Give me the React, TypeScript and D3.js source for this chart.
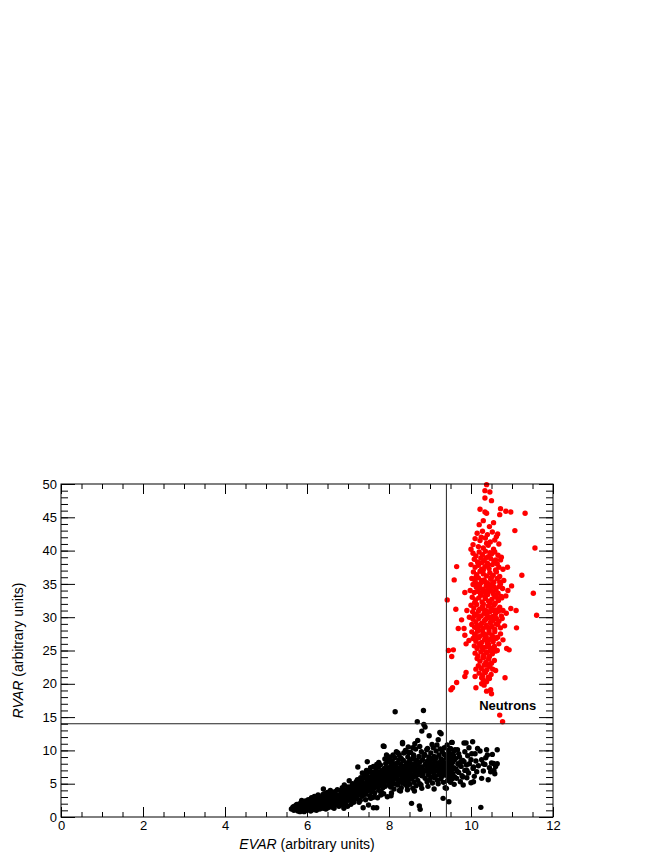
import React, { useEffect, useRef } from "react";
import * as d3 from "d3";

// axis ticks
const xTicks = [0, 2, 4, 6, 8, 10, 12];
const yTicks = [0, 5, 10, 15, 20, 25, 30, 35, 40, 45, 50];

// selection cuts
const cutEvar = 9.4;
const cutRvar = 14;

// [EVAR, RVAR] of events outside the neutron box (black)
const otherEvents: [number, number][] = [
  [5.62,1.2],[5.66,1.5],[5.68,1.0],[5.7,1.3],[5.72,1.7],[5.74,1.1],[5.76,1.4],[5.78,0.9],[5.8,1.6],[5.8,1.2],
  [5.82,2.0],[5.84,1.4],[5.85,1.0],[5.86,1.8],[5.88,1.3],[5.9,2.2],[5.9,1.1],[5.92,1.6],[5.93,0.8],[5.94,1.9],
  [5.95,1.4],[5.96,2.4],[5.97,1.2],[5.98,1.7],[6.0,1.0],[6.0,2.1],[5.75,1.9],[5.87,2.5],[5.69,1.6],[5.83,0.8],
  [5.91,1.5],[5.97,2.0],[5.79,1.2],[5.65,1.3],[5.99,1.3],
  [6.02,1.5],[6.03,2.6],[6.05,1.2],[6.06,1.9],[6.08,2.3],[6.09,0.9],[6.1,1.6],[6.11,2.9],[6.12,1.3],[6.13,2.0],
  [6.15,2.5],[6.16,1.1],[6.17,1.8],[6.18,3.1],[6.2,1.5],[6.2,2.2],[6.22,2.7],[6.23,1.0],[6.24,1.9],[6.25,2.4],
  [6.26,1.4],[6.27,3.3],[6.28,2.0],[6.3,1.6],[6.3,2.8],[6.31,1.2],[6.32,2.3],[6.33,1.8],[6.34,3.0],[6.35,2.1],
  [6.36,1.4],[6.37,2.6],[6.38,1.9],[6.39,3.4],[6.4,2.2],[6.4,1.3],[6.07,1.7],[6.14,2.2],[6.21,1.7],[6.29,2.5],
  [6.41,2.8],[6.42,1.6],[6.43,3.5],[6.44,2.0],[6.45,2.5],[6.46,1.2],[6.47,3.0],[6.48,2.2],[6.49,1.8],[6.5,3.7],
  [6.5,2.6],[6.51,1.4],[6.52,2.9],[6.53,2.1],[6.54,3.3],[6.55,1.7],[6.56,2.5],[6.57,4.0],[6.58,2.0],[6.59,3.1],
  [6.6,1.5],[6.6,2.7],[6.61,3.6],[6.62,2.3],[6.63,1.9],[6.64,3.2],[6.65,2.6],[6.66,1.3],[6.67,2.9],[6.68,3.8],
  [6.69,2.2],[6.7,3.4],[6.7,1.8],[6.71,2.7],[6.72,3.1],[6.73,2.0],[6.74,4.1],[6.75,2.5],[6.77,3.3],[6.78,1.6],
  [6.79,2.9],[6.4,4.2],
  [6.8,3.0],[6.81,2.2],[6.82,4.0],[6.83,3.5],[6.84,1.8],[6.85,2.7],[6.86,4.4],[6.87,3.2],[6.88,2.4],[6.89,3.8],
  [6.9,1.3],[6.9,3.0],[6.91,4.8],[6.92,2.6],[6.93,3.5],[6.94,2.0],[6.95,4.1],[6.96,3.3],[6.97,2.8],[6.98,3.9],
  [6.99,1.6],[7.0,3.6],[7.0,4.5],[7.01,2.5],[7.02,3.1],[7.03,5.45],[7.04,4.0],[7.05,2.9],[7.06,3.5],[7.07,1.9],
  [7.08,4.6],[7.09,3.2],[7.1,3.9],[7.1,2.6],[7.11,5.0],[7.12,3.4],[7.13,4.3],[7.14,2.2],[7.15,3.7],[7.16,4.8],
  [7.17,3.0],[7.18,4.1],[7.19,2.7],[7.2,3.6],[7.2,5.3],
  [7.21,4.3],[7.22,2.8],[7.23,5.6],[7.24,7.5],[7.25,3.9],[7.26,4.9],[7.27,3.3],[7.28,5.2],[7.29,4.0],[7.3,2.5],
  [7.3,4.6],[7.31,5.9],[7.32,3.6],[7.33,4.4],[7.34,5.4],[7.35,3.1],[7.36,4.8],[7.37,1.4],[7.38,4.1],[7.39,6.2],
  [7.4,3.7],[7.4,5.0],[7.41,4.4],[7.42,5.8],[7.43,3.4],[7.44,4.7],[7.45,6.5],[7.46,5.2],[7.47,8.3],[7.48,3.9],
  [7.49,4.9],[7.5,1.8],[7.5,5.5],[7.51,6.0],[7.52,4.3],[7.53,3.2],[7.54,5.1],[7.55,6.8],[7.56,4.6],[7.57,5.7],
  [7.58,3.8],[7.59,5.3],[7.6,6.3],[7.6,4.9],[7.27,2.2],[7.43,2.6],[7.55,2.8],[7.35,6.6],[7.22,4.9],[7.48,6.1],
  [7.61,5.6],[7.62,4.2],[7.63,6.7],[7.64,5.1],[7.65,3.6],[7.66,6.2],[7.67,4.8],[7.68,7.1],[7.69,5.4],[7.7,1.4],
  [7.7,6.0],[7.71,4.5],[7.72,6.8],[7.73,5.2],[7.74,7.5],[7.75,4.0],[7.76,5.9],[7.77,6.5],[7.78,4.7],[7.79,7.8],
  [7.8,5.5],[7.8,6.3],[7.81,3.8],[7.82,7.0],[7.83,5.0],[7.84,6.0],[7.85,4.4],[7.86,6.9],[7.87,5.6],[7.88,10.6],
  [7.89,7.3],[7.9,5.3],[7.9,6.5],[7.91,4.6],[7.92,8.0],[7.93,5.9],[7.94,9.3],[7.95,6.8],[7.96,3.05],[7.97,5.4],
  [7.98,7.4],[7.99,6.2],[8.0,4.9],[8.0,6.7],[7.64,3.0],[7.75,8.2],[7.87,3.5],[7.62,7.6],[7.72,2.9],[7.96,8.6],
  [8.01,5.8],[8.02,7.2],[8.03,6.3],[8.04,4.5],[8.05,7.8],[8.06,6.0],[8.07,5.2],[8.08,8.4],[8.09,6.8],[8.1,5.5],
  [8.1,7.4],[8.11,6.2],[8.12,4.2],[8.13,7.0],[8.14,8.9],[8.15,15.8],[8.15,5.8],[8.16,6.6],[8.17,7.6],[8.18,5.0],
  [8.19,6.9],[8.2,8.1],[8.2,6.1],[8.21,4.8],[8.22,7.3],[8.23,5.6],[8.24,6.5],[8.25,9.3],[8.26,7.0],[8.27,5.3],
  [8.28,6.8],[8.29,7.9],[8.3,4.4],[8.3,6.3],[8.31,7.5],[8.32,5.9],[8.33,11.2],[8.34,6.7],[8.35,8.5],[8.36,5.4],
  [8.37,7.1],[8.38,6.0],[8.39,7.7],[8.4,4.9],[8.4,6.5],[8.06,3.6],[8.18,9.8],[8.28,3.9],[8.12,7.9],[8.24,8.6],
  [8.36,9.6],[8.02,9.0],[8.33,5.1],[8.09,4.9],[8.21,6.9],
  [8.41,7.4],[8.42,5.8],[8.43,8.1],[8.44,6.6],[8.45,7.0],[8.46,9.0],[8.47,5.4],[8.48,7.7],[8.49,6.2],[8.5,8.4],
  [8.5,6.9],[8.51,4.9],[8.52,7.3],[8.53,9.7],[8.54,6.4],[8.55,2.05],[8.55,7.9],[8.56,5.7],[8.57,8.7],[8.58,7.1],
  [8.59,6.0],[8.6,7.6],[8.6,9.3],[8.61,5.2],[8.62,8.0],[8.63,6.7],[8.64,7.3],[8.65,10.2],[8.66,6.1],[8.67,8.5],
  [8.68,7.0],[8.69,14.3],[8.7,11.5],[8.7,5.5],[8.71,7.8],[8.72,6.4],[8.73,9.1],[8.74,1.65],[8.74,7.2],[8.75,5.0],
  [8.76,1.15],[8.76,8.3],[8.77,6.8],[8.78,7.5],[8.79,9.8],[8.8,12.9],[8.8,6.2],[8.44,4.6],[8.58,4.3],[8.66,4.7],
  [8.47,10.5],[8.63,11.0],[8.52,6.0],[8.69,6.9],[8.78,4.8],
  [8.81,7.5],[8.82,8.6],[8.83,6.4],[8.84,16.0],[8.85,13.9],[8.86,7.0],[8.87,9.4],[8.88,13.5],[8.88,5.8],[8.89,8.0],
  [8.9,6.9],[8.91,7.7],[8.92,10.1],[8.93,5.3],[8.94,8.4],[8.95,7.2],[8.96,6.3],[8.97,9.0],[8.98,12.2],[8.98,7.8],
  [8.99,5.6],[9.0,8.3],[9.0,6.8],[9.01,7.4],[9.02,9.6],[9.03,6.0],[9.04,8.8],[9.05,7.1],[9.06,5.1],[9.07,8.0],
  [9.08,10.4],[9.09,6.6],[9.1,7.6],[9.1,9.1],[9.11,5.9],[9.12,8.4],[9.13,7.0],[9.14,6.2],[9.15,8.9],[9.16,7.7],
  [9.17,10.8],[9.18,5.5],[9.19,8.1],[9.2,11.6],[9.2,6.9],[9.21,7.5],[9.22,9.3],[9.23,6.4],[9.24,12.7],[9.24,8.2],
  [9.25,7.2],[9.26,5.7],[9.27,12.5],[9.27,8.7],[9.28,6.6],[9.29,7.9],[9.3,9.8],[9.3,6.1],[9.31,7.3],[9.32,2.8],
  [9.32,8.5],[9.33,5.2],[9.34,7.0],[9.35,9.4],[9.36,6.4],[9.37,4.4],[9.37,8.0],[9.38,7.5],[9.39,6.8],[9.4,8.9],
  [9.4,4.3],
  [9.41,7.8],[9.42,6.2],[9.42,9.2],[9.43,5.5],[9.44,8.4],[9.44,7.0],[9.45,10.0],[9.45,6.6],[9.46,2.3],[9.46,8.0],
  [9.47,5.9],[9.48,7.4],[9.48,9.5],[9.49,6.8],[9.5,8.7],[9.5,5.2],[9.51,7.7],[9.51,6.3],[9.52,9.0],[9.53,11.2],
  [9.53,7.1],[9.54,11.2],[9.54,5.7],[9.55,8.2],[9.56,6.5],[9.57,9.3],[9.58,7.4],[9.59,4.9],[9.6,8.6],[9.6,6.0],
  [9.61,10.1],[9.63,7.2],[9.65,5.8],[9.67,10.1],[9.68,8.0],[9.7,6.7],[9.72,9.0],[9.74,5.3],[9.76,7.6],[9.78,6.2],
  [9.8,8.5],[9.81,4.8],[9.83,8.3],[9.83,11.1],[9.85,7.0],[9.88,11.1],[9.89,7.8],[9.9,5.9],[9.92,9.2],[9.94,6.6],
  [9.96,8.0],[10.0,5.15],[10.02,9.5],[10.04,11.3],[10.05,7.3],[10.06,7.5],[10.06,5.3],[10.08,6.1],[10.1,9.5],[10.12,8.4],
  [10.14,6.8],[10.18,7.7],[10.22,9.9],[10.24,1.45],[10.26,8.6],[10.26,5.8],[10.3,6.9],[10.34,7.9],[10.38,10.1],[10.42,5.6],
  [10.45,7.4],[10.5,8.1],[10.55,8.05],[10.6,7.6],[10.64,8.0],[10.64,10.1],[10.58,6.5],[10.48,6.8],[10.36,8.9],
  [7.86,10.66],[8.33,11.0],[8.58,10.4],[8.94,10.3],[8.22,9.6],[8.47,9.7],[8.1,9.3],[8.4,10.0],[8.75,10.6],[9.05,10.9],
  [9.15,9.9],[8.85,9.2],[8.6,8.9],[8.3,8.8],[8.0,8.3],[7.9,8.7],[7.7,7.9],[7.55,7.4],[7.45,7.0],[7.62,1.4],
  [8.45,4.1],[8.62,3.9],[8.8,4.3],[8.95,4.6],[9.1,4.2],[9.2,5.0],[8.25,4.0],[8.05,3.2],[7.8,3.3],[7.58,2.9],
  [9.35,10.4],[9.25,10.2],[9.42,10.8],[9.5,10.3],[9.58,9.9],[9.62,8.8],[9.7,9.5],[9.75,8.3],[9.85,9.8],[9.95,10.4],
  [9.66,6.9],[9.72,7.8],[9.8,6.0],[9.9,7.0],[10.0,8.6],[10.16,10.3],[10.3,8.0],[10.4,9.3],[10.52,9.4],[10.56,7.0]
];

// [EVAR, RVAR] of events passing both cuts (red)
const neutronEvents: [number, number][] = [
  [10.38,49.9],[10.34,49.0],[10.46,48.8],[10.34,47.9],[10.5,47.5],[10.22,46.2],[10.34,45.8],[10.38,45.6],[10.72,46.3],[10.85,45.9],
  [10.97,45.8],[10.7,45.4],[11.32,45.6],[10.2,43.9],[10.45,43.6],[11.07,43.0],[10.3,44.5],[10.55,44.2],
  [10.15,42.6],[10.28,42.9],[10.4,42.4],[10.52,42.8],[10.62,42.1],[10.1,41.8],[10.22,41.5],[10.35,41.9],[10.47,41.3],[10.58,41.6],
  [10.68,41.0],[10.05,40.9],[10.18,40.6],[10.3,40.4],[10.42,40.8],[10.55,40.2],[10.0,40.2],[11.56,40.4],[10.25,42.0],[10.65,42.5],
  [10.38,41.1],
  [10.05,39.6],[10.12,39.2],[10.2,39.8],[10.28,39.4],[10.35,39.9],[10.42,39.1],[10.5,39.5],[10.58,39.8],[10.66,39.3],[10.74,39.0],
  [10.08,38.7],[10.16,38.3],[10.24,38.9],[10.32,38.5],[10.4,38.1],[10.48,38.8],[10.56,38.4],[10.64,38.0],[10.72,38.6],[10.0,37.9],
  [10.1,37.5],[10.18,37.8],[10.26,37.2],[10.34,37.6],[10.44,37.3],[10.52,37.9],[10.6,37.1],[10.68,37.5],[10.78,37.2],[10.06,36.8],
  [10.14,36.4],[10.22,36.9],[10.3,36.5],[10.38,36.2],[10.46,36.7],[10.54,36.3],[10.62,36.8],[10.7,36.1],[10.2,38.1],[10.36,38.9],
  [10.46,39.7],[10.6,38.6],[9.65,37.6],[10.89,37.5],[11.24,36.3],[10.12,36.0],[10.3,37.1],[10.5,36.0],[10.41,37.8],[10.27,38.2],
  [10.02,35.8],[10.1,35.4],[10.18,35.9],[10.25,35.2],[10.32,35.6],[10.4,35.1],[10.48,35.7],[10.56,35.3],[10.64,35.8],[10.72,35.0],
  [10.8,35.5],[10.05,34.9],[10.13,34.5],[10.21,34.8],[10.29,34.2],[10.37,34.7],[10.45,34.4],[10.53,34.9],[10.61,34.1],[10.69,34.6],
  [10.77,34.3],[9.98,34.0],[10.08,33.7],[10.16,33.9],[10.24,33.3],[10.33,33.8],[10.41,33.4],[10.5,33.9],[10.58,33.2],[10.66,33.6],
  [10.74,33.1],[10.03,33.0],[10.11,32.6],[10.19,32.9],[10.27,32.3],[10.35,32.8],[10.43,32.4],[10.51,32.7],[10.59,32.1],[10.67,32.5],
  [10.75,32.9],[10.14,35.0],[10.35,35.3],[10.52,35.0],[10.2,34.3],[10.42,33.9],[10.62,33.0],[10.3,32.0],[10.47,32.1],[10.9,34.0],
  [10.85,33.2],[9.59,35.6],[10.99,34.7],[9.42,32.6],[9.85,33.7],[11.52,33.6],[10.26,35.5],[10.44,34.8],[10.57,34.5],[10.34,33.1],
  [10.09,32.2],[10.7,35.3],[10.23,33.6],[10.55,33.5],[10.39,34.0],
  [10.0,31.8],[10.07,31.4],[10.14,31.9],[10.21,31.2],[10.28,31.6],[10.35,31.0],[10.42,31.7],[10.49,31.3],[10.56,31.8],[10.63,31.1],
  [10.7,31.5],[10.78,31.0],[10.04,30.8],[10.11,30.4],[10.18,30.9],[10.25,30.2],[10.32,30.6],[10.39,30.3],[10.46,30.8],[10.53,30.1],
  [10.6,30.5],[10.67,30.9],[10.74,30.2],[9.96,30.0],[10.05,29.7],[10.12,29.3],[10.19,29.8],[10.26,29.1],[10.33,29.5],[10.4,29.9],
  [10.47,29.2],[10.54,29.6],[10.61,29.0],[10.68,29.4],[10.76,29.8],[10.02,28.9],[10.09,28.5],[10.16,28.2],[10.23,28.7],[10.3,28.3],
  [10.37,28.8],[10.44,28.1],[10.51,28.6],[10.58,28.2],[10.65,28.9],[10.72,28.4],[10.29,31.3],[10.45,30.0],[10.36,29.7],[10.2,30.1],
  [10.55,31.0],[10.62,29.8],[10.15,28.8],[10.41,28.5],[10.97,31.3],[11.1,31.0],[9.63,31.2],[11.6,30.3],[11.11,28.4],[9.77,29.6],
  [9.69,28.3],[9.83,28.3],[10.86,30.6],[9.9,31.0],[10.38,30.9],[10.5,29.4],[10.27,28.0],[10.08,30.2],[10.82,28.7],
  [10.02,27.8],[10.09,27.4],[10.16,27.9],[10.23,27.2],[10.3,27.6],[10.37,27.1],[10.44,27.7],[10.51,27.3],[10.58,27.8],[10.65,27.0],
  [10.72,27.5],[10.05,26.8],[10.12,26.4],[10.19,26.9],[10.26,26.2],[10.33,26.6],[10.4,26.1],[10.47,26.7],[10.54,26.3],[10.61,26.8],
  [10.68,26.0],[10.08,25.7],[10.15,25.3],[10.22,25.8],[10.29,25.1],[10.36,25.5],[10.43,25.9],[10.5,25.2],[10.57,25.6],[10.64,25.0],
  [10.1,24.6],[10.17,24.2],[10.24,24.8],[10.31,24.3],[10.38,24.7],[10.45,24.1],[10.52,24.5],[10.59,24.9],[10.34,27.4],[10.41,26.4],
  [10.27,25.5],[10.47,24.9],[10.2,26.0],[10.55,27.0],[9.85,27.3],[9.88,26.0],[9.45,25.0],[9.57,25.1],[9.53,24.1],[10.87,25.3],
  [10.93,25.1],[10.78,26.6],[9.95,26.5],[10.35,26.9],[10.46,25.4],[10.32,24.0],[10.13,27.1],
  [10.15,23.8],[10.22,23.4],[10.29,23.9],[10.36,23.2],[10.43,23.7],[10.5,23.1],[10.57,23.5],[10.18,22.7],[10.25,22.3],[10.32,22.8],
  [10.39,22.1],[10.46,22.6],[10.53,22.2],[10.2,21.6],[10.28,21.2],[10.35,21.7],[10.42,21.0],[10.49,21.4],[10.3,20.6],[10.38,20.3],
  [10.45,20.8],[10.26,20.9],[9.88,21.7],[9.85,21.1],[10.1,21.1],[10.83,20.9],[10.26,20.0],[10.32,19.8],[10.12,19.4],[10.38,18.9],
  [10.48,19.1],[10.5,18.5],[9.65,20.2],[9.55,19.4],[9.51,19.1],[10.7,15.3],[10.77,14.3],[10.4,22.9],[10.33,21.9],[10.6,22.0],
  [10.12,22.2]
];

const FONT = "'Liberation Sans', Arial, Helvetica, sans-serif";

const App = () => {
  const svgRef = useRef<SVGSVGElement>(null);

  useEffect(() => {
    const width = 664;
    const height = 860;
    const left = 61, right = 553, top = 484, bottom = 817;

    const svg = d3.select(svgRef.current);
    svg.selectAll("*").remove();
    svg.attr("width", width).attr("height", height);

    const x = d3.scaleLinear().domain([0, 12]).range([left, right]);
    const y = d3.scaleLinear().domain([0, 50]).range([bottom, top]);

    const xMinor = d3.range(0, 12.001, 0.5);
    const yMinor = d3.range(0, 50.001, 1);

    // points first, frame and cuts on top of them
    svg.append("g")
      .selectAll("circle")
      .data(otherEvents)
      .enter()
      .append("circle")
      .attr("cx", d => x(d[0]))
      .attr("cy", d => y(d[1]))
      .attr("r", 2.7)
      .attr("fill", "#000");

    svg.append("g")
      .selectAll("circle")
      .data(neutronEvents)
      .enter()
      .append("circle")
      .attr("cx", d => x(d[0]))
      .attr("cy", d => y(d[1]))
      .attr("r", 2.7)
      .attr("fill", "#ff0000");

    // cut lines
    svg.append("line")
      .attr("x1", x(cutEvar)).attr("x2", x(cutEvar))
      .attr("y1", y(0)).attr("y2", y(50))
      .attr("stroke", "#222").attr("stroke-width", 1);
    svg.append("line")
      .attr("x1", x(0)).attr("x2", x(12))
      .attr("y1", y(cutRvar)).attr("y2", y(cutRvar))
      .attr("stroke", "#222").attr("stroke-width", 1);

    // axes, ROOT style: ticks pointing inwards on all four sides
    const styleAxis = (g: any) => {
      g.select(".domain").remove();
      g.selectAll(".tick line").attr("stroke", "#000");
      g.selectAll("text")
        .style("font-family", FONT)
        .style("font-size", "13px")
        .attr("fill", "#000");
    };

    svg.append("g")
      .attr("transform", `translate(0,${bottom})`)
      .call(d3.axisBottom(x).tickValues(xMinor).tickSizeInner(-5).tickSizeOuter(0).tickFormat(() => ""))
      .call(styleAxis);
    svg.append("g")
      .attr("transform", `translate(0,${bottom})`)
      .call(d3.axisBottom(x).tickValues(xTicks).tickSizeInner(-10).tickSizeOuter(0).tickPadding(4).tickFormat(d3.format("d")))
      .call(styleAxis);
    svg.append("g")
      .attr("transform", `translate(0,${top})`)
      .call(d3.axisTop(x).tickValues(xMinor).tickSizeInner(-5).tickSizeOuter(0).tickFormat(() => ""))
      .call(styleAxis);
    svg.append("g")
      .attr("transform", `translate(0,${top})`)
      .call(d3.axisTop(x).tickValues(xTicks).tickSizeInner(-10).tickSizeOuter(0).tickFormat(() => ""))
      .call(styleAxis);

    svg.append("g")
      .attr("transform", `translate(${left},0)`)
      .call(d3.axisLeft(y).tickValues(yMinor).tickSizeInner(-7).tickSizeOuter(0).tickFormat(() => ""))
      .call(styleAxis);
    svg.append("g")
      .attr("transform", `translate(${left},0)`)
      .call(d3.axisLeft(y).tickValues(yTicks).tickSizeInner(-14).tickSizeOuter(0).tickPadding(4).tickFormat(d3.format("d")))
      .call(styleAxis);
    svg.append("g")
      .attr("transform", `translate(${right},0)`)
      .call(d3.axisRight(y).tickValues(yMinor).tickSizeInner(-7).tickSizeOuter(0).tickFormat(() => ""))
      .call(styleAxis);
    svg.append("g")
      .attr("transform", `translate(${right},0)`)
      .call(d3.axisRight(y).tickValues(yTicks).tickSizeInner(-14).tickSizeOuter(0).tickFormat(() => ""))
      .call(styleAxis);

    // frame
    svg.append("rect")
      .attr("x", left).attr("y", top)
      .attr("width", right - left).attr("height", bottom - top)
      .attr("fill", "none").attr("stroke", "#000").attr("stroke-width", 1);

    // axis titles
    const xTitle = svg.append("text")
      .attr("x", (left + right) / 2)
      .attr("y", 849)
      .attr("text-anchor", "middle")
      .style("font-family", FONT)
      .style("font-size", "14px");
    xTitle.append("tspan").style("font-style", "italic").text("EVAR");
    xTitle.append("tspan").text(" (arbitrary units)");

    const yTitle = svg.append("text")
      .attr("transform", `translate(23,${(top + bottom) / 2}) rotate(-90)`)
      .attr("text-anchor", "middle")
      .style("font-family", FONT)
      .style("font-size", "14px");
    yTitle.append("tspan").style("font-style", "italic").text("RVAR");
    yTitle.append("tspan").text(" (arbitrary units)");

    // region label
    svg.append("text")
      .attr("x", x(10.2))
      .attr("y", 710)
      .style("font-family", FONT)
      .style("font-size", "13px")
      .style("font-weight", "bold")
      .text("Neutrons");
  }, []);

  return (
    <div style={{ position: "absolute", left: 0, top: 0, width: 664, height: 860, background: "#fff" }}>
      <svg ref={svgRef} style={{ display: "block" }}></svg>
    </div>
  );
};

export default App;
